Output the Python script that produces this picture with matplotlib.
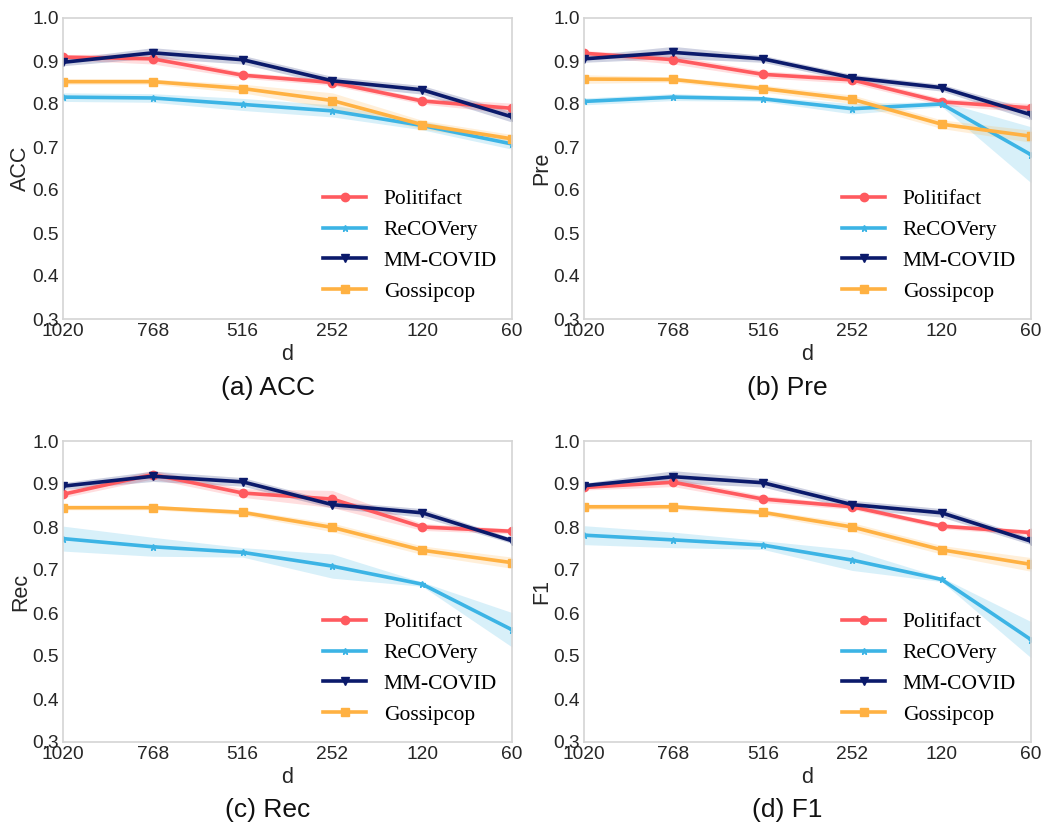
import numpy as np
import matplotlib.pyplot as plt

d_labels = ['1020', '768', '516', '252', '120', '60']
datasets = ['Politifact', 'ReCOVery', 'MM-COVID', 'Gossipcop']
colors = ['#ff5a5f', '#3cb4e5', '#0b1a6b', '#ffb142']
markers = ['o', '*', 'v', 's']

# mean values per metric (rows follow `datasets`)
acc = [
    [0.909, 0.905, 0.867, 0.850, 0.807, 0.790],
    [0.816, 0.814, 0.799, 0.784, 0.750, 0.707],
    [0.897, 0.919, 0.903, 0.854, 0.833, 0.770],
    [0.852, 0.852, 0.836, 0.808, 0.752, 0.719],
]
acc_err = [
    [0.006, 0.012, 0.007, 0.007, 0.007, 0.012],
    [0.010, 0.010, 0.014, 0.014, 0.010, 0.012],
    [0.008, 0.012, 0.010, 0.010, 0.010, 0.012],
    [0.006, 0.006, 0.010, 0.018, 0.010, 0.010],
]
pre = [
    [0.918, 0.903, 0.869, 0.856, 0.805, 0.791],
    [0.806, 0.816, 0.812, 0.789, 0.800, 0.682],
    [0.905, 0.920, 0.905, 0.861, 0.838, 0.775],
    [0.858, 0.857, 0.836, 0.811, 0.753, 0.725],
]
pre_err = [
    [0.006, 0.010, 0.008, 0.008, 0.008, 0.010],
    [0.008, 0.008, 0.006, 0.012, 0.006, 0.065],
    [0.008, 0.014, 0.008, 0.008, 0.008, 0.012],
    [0.010, 0.006, 0.008, 0.010, 0.010, 0.014],
]
rec = [
    [0.876, 0.922, 0.879, 0.865, 0.800, 0.790],
    [0.773, 0.754, 0.741, 0.709, 0.667, 0.561],
    [0.895, 0.918, 0.905, 0.852, 0.833, 0.768],
    [0.845, 0.845, 0.834, 0.799, 0.746, 0.717],
]
rec_err = [
    [0.008, 0.010, 0.010, 0.020, 0.008, 0.006],
    [0.029, 0.022, 0.011, 0.028, 0.005, 0.040],
    [0.008, 0.012, 0.010, 0.008, 0.010, 0.006],
    [0.005, 0.005, 0.006, 0.010, 0.010, 0.013],
]
f1 = [
    [0.892, 0.904, 0.865, 0.847, 0.802, 0.787],
    [0.781, 0.770, 0.758, 0.723, 0.678, 0.538],
    [0.896, 0.917, 0.903, 0.852, 0.833, 0.767],
    [0.847, 0.847, 0.834, 0.800, 0.747, 0.713],
]
f1_err = [
    [0.006, 0.010, 0.008, 0.006, 0.006, 0.006],
    [0.022, 0.018, 0.010, 0.024, 0.005, 0.042],
    [0.006, 0.014, 0.010, 0.010, 0.010, 0.008],
    [0.006, 0.006, 0.006, 0.010, 0.010, 0.016],
]

panels = [
    ('ACC', '(a) ACC', acc, acc_err),
    ('Pre', '(b) Pre', pre, pre_err),
    ('Rec', '(c) Rec', rec, rec_err),
    ('F1', '(d) F1', f1, f1_err),
]

W, H = 1053, 827
fig = plt.figure(figsize=(W / 100, H / 100), dpi=100)

# axes boxes in pixels: left, top, right, bottom
boxes = [(63, 18, 512, 319), (584, 18, 1031, 319),
         (63, 441, 512, 742), (584, 441, 1031, 742)]
title_y = [388, 388, 810, 810]

sans = 'Liberation Sans'
serif = 'Liberation Serif'
x = np.arange(len(d_labels))

for k, (ylab, title, vals, errs) in enumerate(panels):
    l, t, r, b = boxes[k]
    ax = fig.add_axes([l / W, 1 - b / H, (r - l) / W, (b - t) / H])
    for i, name in enumerate(datasets):
        v = np.array(vals[i])
        e = np.array(errs[i])
        ax.fill_between(x, v - e, v + e, color=colors[i], alpha=0.2, lw=0)
        ax.plot(x, v, color=colors[i], marker=markers[i], lw=2.6,
                markersize=6 if markers[i] != '*' else 5, label=name)
    ax.set_xlim(0, 5)
    ax.set_ylim(0.3, 1.0)
    ax.set_xticks(x)
    ax.set_xticklabels(d_labels)
    ax.set_yticks(np.arange(0.3, 1.01, 0.1))
    ax.set_yticklabels(['%.1f' % y for y in np.arange(0.3, 1.01, 0.1)])
    ax.tick_params(length=0, labelsize=13.8, labelcolor='#262626', pad=3)
    for lab in ax.get_xticklabels() + ax.get_yticklabels():
        lab.set_fontfamily(sans)
    for s in ax.spines.values():
        s.set_color('#d4d4d4')
        s.set_linewidth(1.2)
    ax.set_xlabel('d', fontsize=15.5, family=sans, color='#262626', labelpad=3)
    ax.set_ylabel(ylab, fontsize=15.5, family=sans, color='#262626', labelpad=1)
    ax.legend(loc='lower right', frameon=False,
              prop={'family': serif, 'size': 15.5},
              handlelength=2.0, labelspacing=0.5, borderaxespad=0.3,
              bbox_to_anchor=(1.0, 0.007))
    fig.text((l + r) / 2 / W - 20 / W, 1 - title_y[k] / H, title,
             ha='center', va='center', fontsize=19, family=sans,
             color='#111111')

fig.savefig('out.png', dpi=100)
